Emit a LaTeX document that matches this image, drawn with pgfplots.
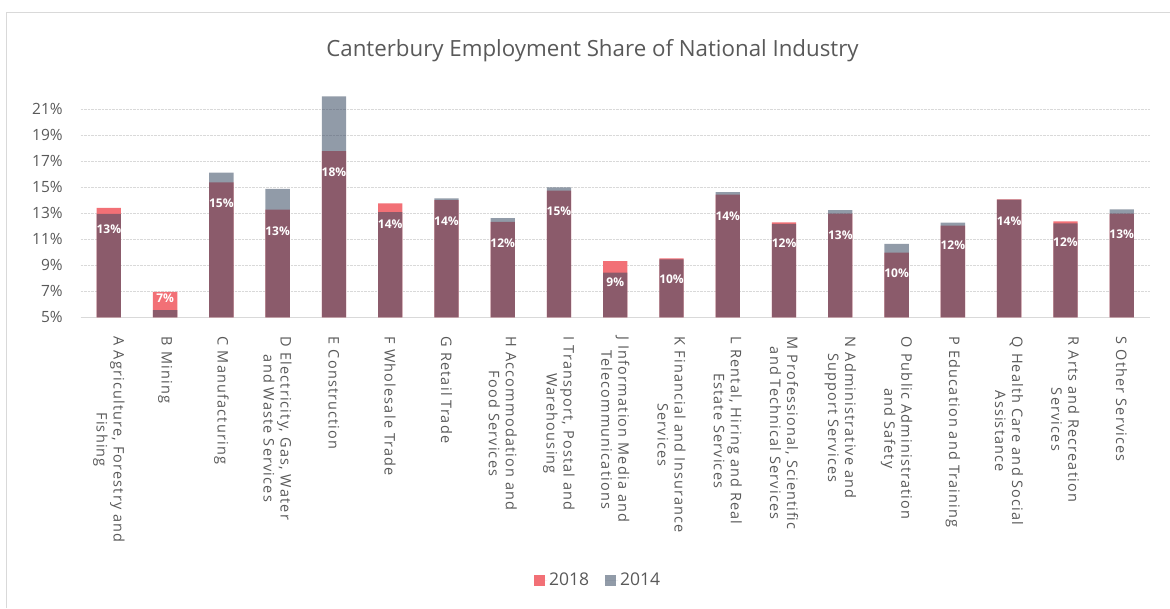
\documentclass[border=0pt]{standalone}
\usepackage{fontspec}
\setmainfont{Open Sans}
\newfontfamily\catfont[LetterSpace=8]{Open Sans}
\usepackage{pgfplots}
\pgfplotsset{compat=1.18}
\definecolor{red18}{RGB}{242,112,118}
\definecolor{gray14}{RGB}{59,76,100}
\definecolor{txt}{RGB}{89,89,89}
\definecolor{gridc}{RGB}{217,217,217}
\begin{document}
\begin{tikzpicture}[x=1pt,y=1pt]
\useasboundingbox (0,0) rectangle (1170,608);
\draw[gridc, line width=1.5pt] (6.5,0) -- (6.5,595.5) -- (1170,595.5);
\node[anchor=base, text=txt, font=\fontsize{22.3}{26}\selectfont, inner sep=0pt] at (592.5,551.5) {Canterbury Employment Share of National Industry};
\begin{axis}[
  at={(80.7pt,290.7pt)}, anchor=south west, scale only axis,
  width=1069.1pt, height=221pt,
  ymin=5, ymax=22, xmin=-0.5, xmax=18.5,
  ybar, bar width=24.3pt,
  axis x line*=bottom, axis y line*=left,
  x axis line style={draw=gridc, line width=1.5pt},
  y axis line style={draw=none},
  xtick={0,...,18}, ytick={5,7,...,21},
  yticklabels={5\%,7\%,9\%,11\%,13\%,15\%,17\%,19\%,21\%},
  xticklabels={{A Agriculture, Forestry and\\Fishing},{B Mining},{C Manufacturing},{D Electricity, Gas, Water\\and Waste Services},{E Construction},{F Wholesale Trade},{G Retail Trade},{H Accommodation and\\Food Services},{I Transport, Postal and\\Warehousing},{J Information Media and\\Telecommunications},{K Financial and Insurance\\Services},{L Rental, Hiring and Real\\Estate Services},{M Professional, Scientific\\and Technical Services},{N Administrative and\\Support Services},{O Public Administration\\and Safety},{P Education and Training},{Q Health Care and Social\\Assistance},{R Arts and Recreation\\Services},{S Other Services}},
  major tick length=0pt,
  xticklabel style={rotate=-90, anchor=west, align=center, font=\catfont\fontsize{14.5}{17}\selectfont, text=txt},
  xticklabel shift=16pt,
  yticklabel style={font=\fontsize{15.5}{18}\selectfont, text=txt, xshift=-14.5pt},
  ymajorgrids, major grid style={gridc, densely dotted, line width=1.2pt},
  legend style={at={(0.484,-1.19)}, anchor=center, draw=none, fill=none, legend columns=2,
    font=\fontsize{17.5}{20}\selectfont, text=txt,
    /tikz/every even column/.append style={column sep=14pt}},
  legend image code/.code={\fill[#1] (0pt,-5.5pt) rectangle (11pt,5.5pt); \path (0pt,0pt) -- (13pt,0pt);},
  clip=true,
]
\addplot[fill=red18, draw=none, bar shift=0pt] coordinates {
(0,13.41) (1,6.95) (2,15.38) (3,13.28) (4,17.79) (5,13.77) (6,14.02) (7,12.35) (8,14.74) (9,9.33)
(10,9.54) (11,14.43) (12,12.31) (13,12.97) (14,9.97) (15,12.05) (16,14.08) (17,12.38) (18,12.97)};
\addlegendentry{2018}
\addplot[fill=gray14, fill opacity=0.56, draw=none, bar shift=0pt] coordinates {
(0,12.95) (1,5.56) (2,16.12) (3,14.87) (4,22.0) (5,13.10) (6,14.15) (7,12.62) (8,15.00) (9,8.43)
(10,9.46) (11,14.62) (12,12.18) (13,13.25) (14,10.64) (15,12.28) (16,14.05) (17,12.23) (18,13.31)};
\addlegendentry{2014}
\addplot[draw=none, fill=none, bar shift=0pt, forget plot,
  nodes near coords, point meta=explicit symbolic,
  every node near coord/.append style={anchor=center, text=white, font=\bfseries\fontsize{12}{14}\selectfont}]
coordinates {
(0,11.79)[13\%] (1,6.48)[7\%] (2,13.79)[15\%] (3,11.66)[13\%] (4,16.18)[18\%] (5,12.15)[14\%]
(6,12.38)[14\%] (7,10.69)[12\%] (8,13.18)[15\%] (9,7.69)[9\%] (10,7.92)[10\%] (11,12.77)[14\%]
(12,10.72)[12\%] (13,11.33)[13\%] (14,8.38)[10\%] (15,10.51)[12\%] (16,12.43)[14\%] (17,10.77)[12\%] (18,11.41)[13\%]};
\end{axis}
\end{tikzpicture}
\end{document}
